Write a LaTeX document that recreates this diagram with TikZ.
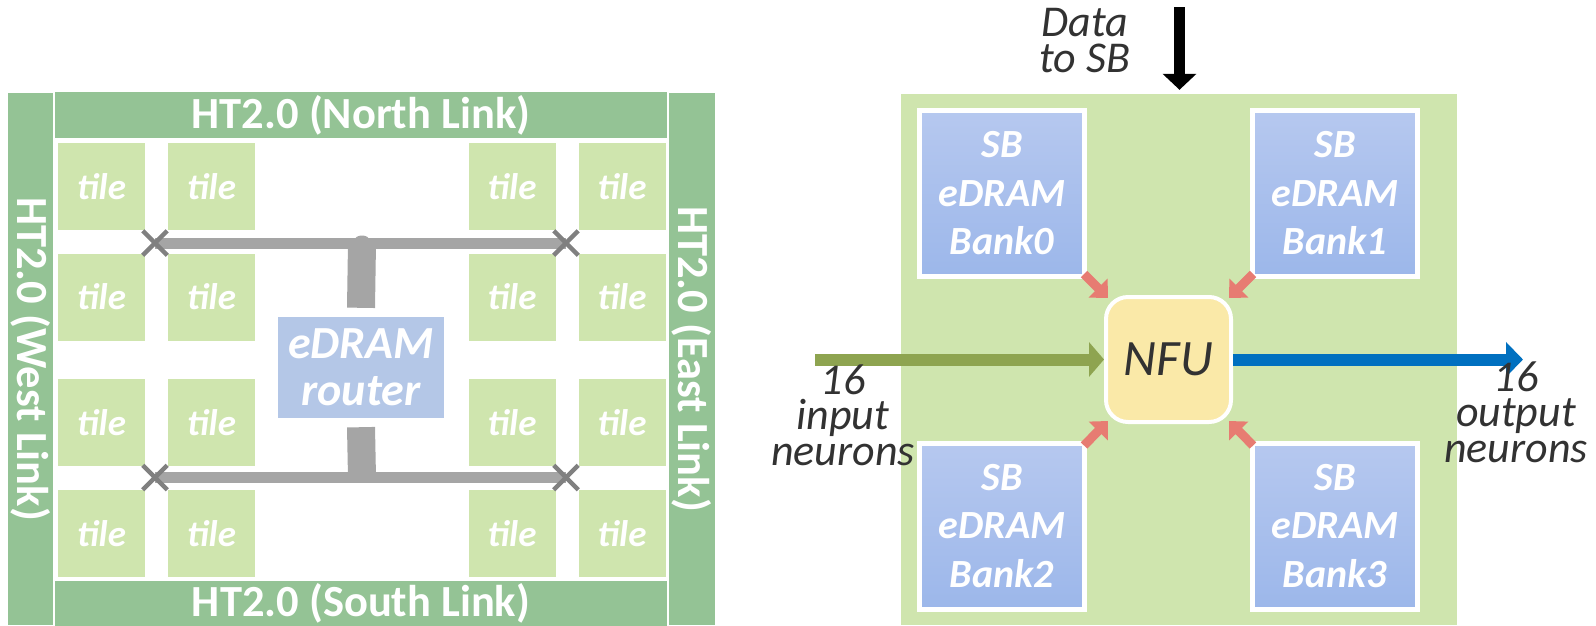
\documentclass[tikz,border=0pt]{standalone}
\usepackage{fontspec}
\setmainfont{Carlito}
\usetikzlibrary{arrows.meta,shapes.misc}
\definecolor{bardark}{RGB}{148,195,149}
\definecolor{tilegreen}{RGB}{207,229,174}
\definecolor{routerblue}{RGB}{180,199,231}
\definecolor{banktop}{RGB}{182,200,239}
\definecolor{bankbot}{RGB}{156,183,234}
\definecolor{nfuyellow}{RGB}{250,233,168}
\definecolor{redarrow}{RGB}{231,124,114}
\definecolor{olivegreen}{RGB}{142,164,80}
\definecolor{outblue}{RGB}{0,112,192}
\definecolor{busgrey}{RGB}{165,165,165}
\definecolor{xgrey}{RGB}{128,128,128}
\definecolor{txtdark}{RGB}{50,50,50}
\newcommand\myfs[2]{\fontsize{#1pt}{#2pt}\selectfont}
\begin{document}
\begin{tikzpicture}[x=1pt,y=-1pt,
  bar/.style={fill=bardark, inner sep=0pt, text=white, font=\myfs{44.5}{50}\bfseries},
  tilebox/.style={fill=tilegreen, minimum width=87pt, minimum height=87pt, inner sep=0pt, text=white, font=\myfs{37}{40}\bfseries\itshape},
  routerbox/.style={fill=routerblue, minimum width=166pt, minimum height=101pt, inner sep=0pt, text=white, align=center, font=\myfs{46}{47}\bfseries\itshape},
  busline/.style={draw=busgrey, line width=11pt},
  stubline/.style={draw=busgrey, line width=28pt},
  xmk/.style={cross out, draw=xgrey, line width=4.5pt, minimum size=20pt, inner sep=0pt},
  sbbgbox/.style={fill=tilegreen, minimum width=556pt, minimum height=531pt, inner sep=0pt},
  bankbox/.style={top color=banktop, bottom color=bankbot, draw=white, line width=5pt, minimum width=165pt, minimum height=166pt, inner sep=0pt, text=white, align=center, font=\myfs{40}{48.5}\bfseries\itshape},
  nfubox/.style={fill=nfuyellow, draw=white, line width=4pt, rounded corners=22pt, minimum width=125pt, minimum height=125pt, inner sep=0pt, text=txtdark, font=\myfs{51}{55}\itshape},
  redarr/.style={draw=redarrow, line width=9pt, -{Triangle[width=26pt,length=14pt]}},
  blkarrow/.style={draw=black, line width=11pt, -{Triangle[width=33pt,length=16pt]}},
  inarrow/.style={draw=olivegreen, line width=12pt, -{Triangle[width=34pt,length=15pt]}},
  outarrow/.style={draw=outblue, line width=12pt, -{Triangle[width=34pt,length=17pt]}},
  sidetext/.style={inner sep=0pt, text=txtdark, align=center, font=\myfs{44}{35.5}\itshape}
]
\useasboundingbox (0,0) rectangle (1596,625);

% ---------------- left: chip ----------------
\node[bar, minimum width=612pt, minimum height=46pt] (north) at (361,115) {HT2.0 (North Link)};
\node[bar, minimum width=612pt, minimum height=45pt] (south) at (361,603) {HT2.0 (South Link)};
\node[bar, rotate=-90, minimum width=532pt, minimum height=45pt] (west) at (30.5,359) {HT2.0 (West Link)};
\node[bar, rotate=-90, minimum width=532pt, minimum height=46pt] (east) at (692,359) {HT2.0 (East Link)};

\foreach \c/\x in {1/101.5,2/211.5,3/512,4/622}
  \foreach \r/\y in {1/186.5,2/297,3/422.5,4/533.5}
    \node[tilebox] (tile-\r-\c) at (\x,\y) {tile};

\node[routerbox] (router) at (361,367.5) {eDRAM\\router};

\coordinate (busTL) at (155,243);
\coordinate (busTR) at (566,243);
\coordinate (busBL) at (155,477.5);
\coordinate (busBR) at (566,477.5);
\coordinate (jT) at (362,243);
\coordinate (jB) at (362,477.5);

\draw[stubline] ([yshift=9pt]router.north) -- (jT);
\draw[stubline] ([yshift=-9pt]router.south) -- (jB);
\fill[busgrey] (362,239.5) ellipse (7pt and 4pt);
\draw[busline] (busTL) -- (busTR);
\draw[busline] (busBL) -- (busBR);
\node[xmk] (xTL) at (busTL) {};
\node[xmk] (xTR) at (busTR) {};
\node[xmk] (xBL) at (busBL) {};
\node[xmk] (xBR) at (busBR) {};

% ---------------- right: node ----------------
\node[sbbgbox] (sbbg) at (1179,359.5) {};
\node[bankbox] (bank0) at (1002,193.5) {SB\\eDRAM\\Bank0};
\node[bankbox] (bank1) at (1335,193.5) {SB\\eDRAM\\Bank1};
\node[bankbox] (bank2) at (1002,526) {SB\\eDRAM\\Bank2};
\node[bankbox] (bank3) at (1335,526) {SB\\eDRAM\\Bank3};
\node[nfubox] (nfu) at (1168.5,359.5) {NFU};

\draw[redarr] ([shift={(-3pt,5pt)}]bank0.south east) -- ([shift={(4pt,-3pt)}]nfu.north west);
\draw[redarr] ([shift={(3pt,5pt)}]bank1.south west) -- ([shift={(-4pt,-3pt)}]nfu.north east);
\draw[redarr] ([shift={(-3pt,-5pt)}]bank2.north east) -- ([shift={(4pt,3pt)}]nfu.south west);
\draw[redarr] ([shift={(3pt,-5pt)}]bank3.north west) -- ([shift={(-4pt,3pt)}]nfu.south east);

\coordinate (dtop) at (1179.5,7);
\draw[blkarrow, shorten >=4pt] (dtop) -- (dtop |- sbbg.north);

\coordinate (inl) at (815,359.5);
\coordinate (outr) at (1523,359.5);
\draw[inarrow] (inl) -- (nfu.west);
\draw[outarrow] (nfu.east) -- (outr);

\node[sidetext, anchor=base] (datatxt) at (1085,72) {Data\\to SB};
\node[sidetext, anchor=base] (intxt) at (843,465) {16\\input\\neurons};
\node[sidetext, anchor=base] (outtxt) at (1516,462) {16\\output\\neurons};
\end{tikzpicture}
\end{document}
